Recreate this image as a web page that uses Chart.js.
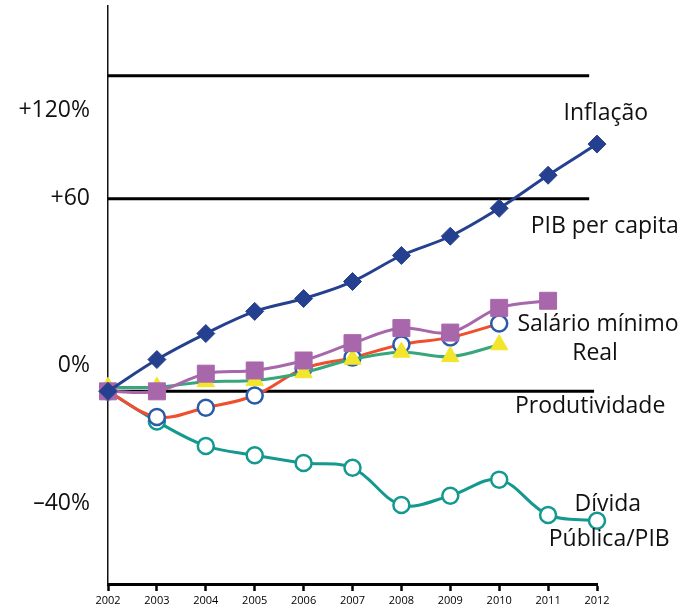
<!DOCTYPE html>
<html>
<head>
<meta charset="utf-8">
<script src="https://cdn.jsdelivr.net/npm/chart.js@4.4.1/dist/chart.umd.min.js"></script>
<style>
  body { margin: 0; background: #fff; }
  #wrap { width: 687px; height: 611px; }
</style>
</head>
<body>
<div id="wrap"><canvas id="chart" width="687" height="611"></canvas></div>
<script>
// data (index points, 2002 = 0)
const years = [2002, 2003, 2004, 2005, 2006, 2007, 2008, 2009, 2010, 2011, 2012];
const inflacao = [0, 9.9, 18, 24.9, 28.9, 34.2, 42.3, 48.3, 57, 67.3, 77];
const salarioMinimo = [0, 0, 5.5, 6.5, 9.6, 15, 19.7, 18.3, 26, 28.2];
const pibPerCapita = [0, -8, -5.1, -1.3, 7.1, 10.5, 14.6, 16.8, 21.1];
const produtividade = [1.3, 1.3, 3, 3.4, 5.8, 10, 12.2, 10.8, 14.5];
const dividaPib = [0, -9.4, -17, -19.9, -22.3, -23.8, -35.4, -32.5, -27.5, -38.5, -40.3];

// y axis tick labels (they sit oddly in the original slide)
const yTickValues = [87.5, 60, 8, -35];
const yTickLabels = ["+120%", "+60", "0%", "\u201340%"];

// black horizontal rules and where each one stops
const refLines = [98.3, 60, 0];
const refLineEnds = [2011.84, 2011.84, 2011.94];

// series captions, centred
const notes = [
  { text: "Inflação", x: 2012.18, y: 86.6 },
  { text: "PIB per capita", x: 2012.16, y: 51.4 },
  { text: "Salário mínimo", x: 2012.02, y: 20.8 },
  { text: "Real", x: 2011.96, y: 11.8 },
  { text: "Produtividade", x: 2011.86, y: -4.8 },
  { text: "Dívida", x: 2012.22, y: -35.1 },
  { text: "Pública/PIB", x: 2012.25, y: -46 },
];

const FONT = "'Open Sans', Lato, sans-serif";

function toPoints(values) {
  return values.map((v, i) => ({ x: years[i], y: v }));
}

const extras = {
  id: "extras",
  beforeDatasetsDraw(chart) {
    const { ctx, scales: { x, y } } = chart;
    ctx.save();
    ctx.strokeStyle = "#000";
    ctx.lineWidth = 3;
    refLines.forEach((v, i) => {
      const py = y.getPixelForValue(v);
      ctx.beginPath();
      ctx.moveTo(x.getPixelForValue(years[0]), py);
      ctx.lineTo(x.getPixelForValue(refLineEnds[i]), py);
      ctx.stroke();
    });
    ctx.restore();
  },
  afterDraw(chart) {
    const { ctx, scales: { x, y } } = chart;
    ctx.save();
    ctx.fillStyle = "#111";
    ctx.font = "23px " + FONT;
    ctx.textAlign = "center";
    ctx.textBaseline = "middle";
    notes.forEach((n) => {
      ctx.fillText(n.text, x.getPixelForValue(n.x), y.getPixelForValue(n.y));
    });
    ctx.restore();
  },
};

new Chart(document.getElementById("chart"), {
  type: "line",
  data: {
    datasets: [
      {
        label: "Inflação",
        data: toPoints(inflacao),
        borderColor: "#25408f",
        backgroundColor: "#25408f",
        pointStyle: "rectRot",
        pointRadius: 9,
        pointBorderWidth: 1,
      },
      {
        label: "Salário mínimo",
        data: toPoints(salarioMinimo),
        borderColor: "#a867ab",
        backgroundColor: "#a867ab",
        pointStyle: "rect",
        pointRadius: 12,
        pointBorderWidth: 1,
      },
      {
        label: "Produtividade",
        data: toPoints(produtividade),
        borderColor: "#37a67b",
        pointBackgroundColor: "#f3e52b",
        pointBorderColor: "#f3e52b",
        pointStyle: "triangle",
        pointRadius: 10,
        pointBorderWidth: 1,
      },
      {
        label: "PIB per capita",
        data: toPoints(pibPerCapita),
        borderColor: "#f04e2d",
        pointBackgroundColor: "#fff",
        pointBorderColor: "#2b5aa8",
        pointStyle: "circle",
        pointRadius: 8,
        pointBorderWidth: 2.5,
      },
      {
        label: "Dívida Pública/PIB",
        data: toPoints(dividaPib),
        borderColor: "#13998f",
        pointBackgroundColor: "#fff",
        pointBorderColor: "#13998f",
        pointStyle: "circle",
        pointRadius: 8,
        pointBorderWidth: 2.5,
      },
    ],
  },
  options: {
    responsive: false,
    animation: false,
    layout: {
      autoPadding: false,
      padding: { left: 0, top: 6, right: 90, bottom: 0 },
    },
    datasets: {
      line: { borderWidth: 3, tension: 0.35, clip: false, fill: false },
    },
    plugins: {
      legend: { display: false },
      tooltip: { enabled: false },
    },
    scales: {
      x: {
        type: "linear",
        min: 2002,
        max: 2012,
        afterFit: (s) => {
          s.height = 27;
          s.paddingLeft = 0;
          s.paddingRight = 0;
        },
        grid: {
          drawOnChartArea: false,
          drawTicks: true,
          tickLength: 7,
          tickColor: "#000",
          tickWidth: 2.5,
        },
        border: { display: true, color: "#000", width: 3 },
        ticks: {
          stepSize: 1,
          padding: 3,
          color: "#000",
          font: { family: FONT, size: 11 },
          callback: (v) => String(v),
          maxRotation: 0,
        },
      },
      y: {
        min: -60,
        max: 120,
        afterFit: (s) => {
          s.width = 108;
          s.paddingTop = 0;
          s.paddingBottom = 0;
        },
        afterBuildTicks: (s) => {
          s.ticks = yTickValues.map((v) => ({ value: v }));
        },
        grid: { drawOnChartArea: false, drawTicks: false },
        border: { display: true, color: "#111", width: 1.5 },
        ticks: {
          padding: 18,
          color: "#111",
          font: { family: FONT, size: 23 },
          callback: (v) => yTickLabels[yTickValues.indexOf(v)],
        },
      },
    },
  },
  plugins: [extras],
});
</script>
</body>
</html>
